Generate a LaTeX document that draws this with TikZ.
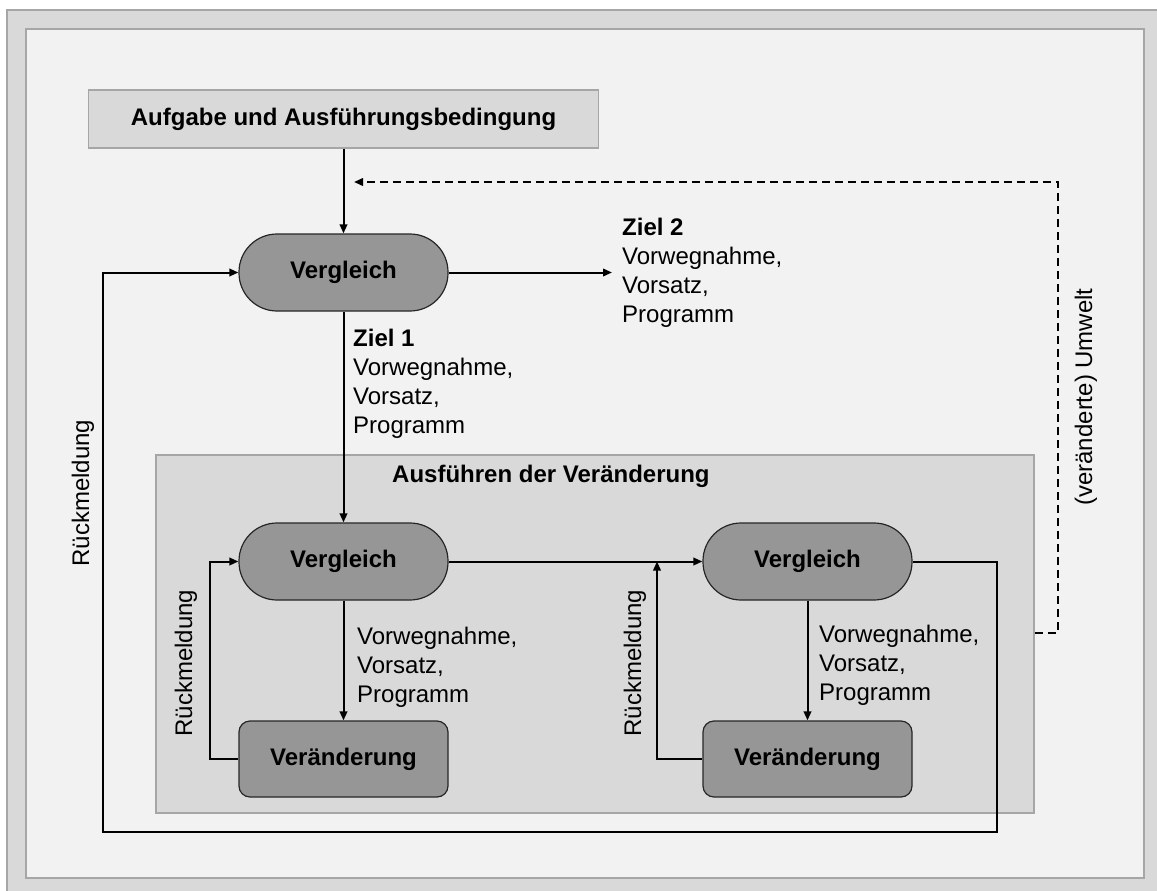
\documentclass[tikz,border=0pt]{standalone}
\usepackage{fontspec}
\setmainfont{Liberation Sans}
\usetikzlibrary{arrows.meta}

\definecolor{framegray}{HTML}{D9D9D9}
\definecolor{panelgray}{HTML}{F2F2F2}
\definecolor{edgegray}{HTML}{A6A6A6}
\definecolor{nodegray}{HTML}{969696}

\begin{document}
\begin{tikzpicture}[x=1pt,y=-1pt,
  txt/.style={font=\fontsize{24}{29}\selectfont},
  bigbox/.style={draw=edgegray,line width=1.5pt,fill=framegray},
  cmpnode/.style={draw=black!85,line width=1.2pt,fill=nodegray,rounded corners=38pt,
    minimum width=209pt,minimum height=77pt,font=\fontsize{24}{29}\selectfont\bfseries},
  chgnode/.style={draw=black!85,line width=1.2pt,fill=nodegray,rounded corners=11pt,
    minimum width=209pt,minimum height=76pt,font=\fontsize{24}{29}\selectfont\bfseries},
  lbl/.style={txt,align=left,inner sep=0pt,anchor=north west},
  rot/.style={txt,rotate=90,inner sep=0pt},
  arr/.style={line width=2pt,-{Triangle[length=9pt,width=7.5pt]}},
  dsh/.style={line width=2pt,dash pattern=on 8pt off 5pt,-{Triangle[length=9pt,width=7.5pt]}}
]
\useasboundingbox (0,0) rectangle (1157,891);
\fill[white] (0,0) rectangle (1157,891);
% outer frame and inner panel
\fill[framegray] (7,10) rectangle (1157,891);
\draw[edgegray,line width=1.5pt] (7,891) -- (7,10) -- (1157,10);
\draw[fill=panelgray,draw=edgegray,line width=1.5pt] (26,29) rectangle (1144,878);

% task box
\node[bigbox,minimum width=510pt,minimum height=58pt,
  font=\fontsize{24}{29}\selectfont\bfseries] (task) at (343.5,119) {Aufgabe und Ausführungsbedingung};

% execution container
\node[bigbox,minimum width=878pt,minimum height=358pt] (exec) at (595,634) {};
\node[font=\fontsize{24}{29}\selectfont\bfseries,anchor=base west,inner sep=0pt] (exectitle) at (392,482) {Ausführen der Veränderung};

% comparison and change nodes
\node[cmpnode] (v0) at (343.5,272.5) {Vergleich};
\node[cmpnode] (v1) at (343.5,561.5) {Vergleich};
\node[cmpnode] (v2) at (807.5,561.5) {Vergleich};
\node[chgnode] (c1) at (343.5,759) {Veränderung};
\node[chgnode] (c2) at (807.5,759) {Veränderung};

% free ends and corners of the connectors
\coordinate (z2end) at (612,272.5);
\coordinate (fb1) at (210,759);
\coordinate (fb2) at (657,561.5);
\coordinate (loopR) at (997,832);
\coordinate (loopL) at (103,832);
\coordinate (envA) at (1058,632.5);
\coordinate (envB) at (1058,182);
\coordinate (envEnd) at (354,182);

% connectors
\draw[arr] (task.south -| v0) -- (v0.north);
\draw[arr] (v0.east) -- (z2end);
\draw[arr] (v0.south) -- (v1.north);
\draw[arr] (v1.south) -- (c1.north);
\draw[arr] (c1.west) -- (fb1) |- (v1.west);
\draw[arr] (v1.east) -- (v2.west);
\draw[arr] (v2.south) -- (c2.north);
\draw[arr] (c2.west) -| (fb2);
\draw[arr] (v2.east) -| (loopR) -- (loopL) |- (v0.west);
\draw[dsh] (exec.east |- envA) -- (envA) -- (envB) -- (envEnd);

% labels
\node[lbl] (ziel2) at (622,218) {\textbf{Ziel 2}\\Vorwegnahme,\\Vorsatz,\\Programm};
\node[lbl] (ziel1) at (353,329) {\textbf{Ziel 1}\\Vorwegnahme,\\Vorsatz,\\Programm};
\node[lbl] (plan1) at (357,627) {Vorwegnahme,\\Vorsatz,\\Programm};
\node[lbl] (plan2) at (819,625) {Vorwegnahme,\\Vorsatz,\\Programm};

\node[rot] (rm0) at (83,493) {Rückmeldung};
\node[rot] (rm1) at (186,663) {Rückmeldung};
\node[rot] (rm2) at (635,663) {Rückmeldung};
\node[rot] (env) at (1086,397) {(veränderte) Umwelt};
\end{tikzpicture}
\end{document}
